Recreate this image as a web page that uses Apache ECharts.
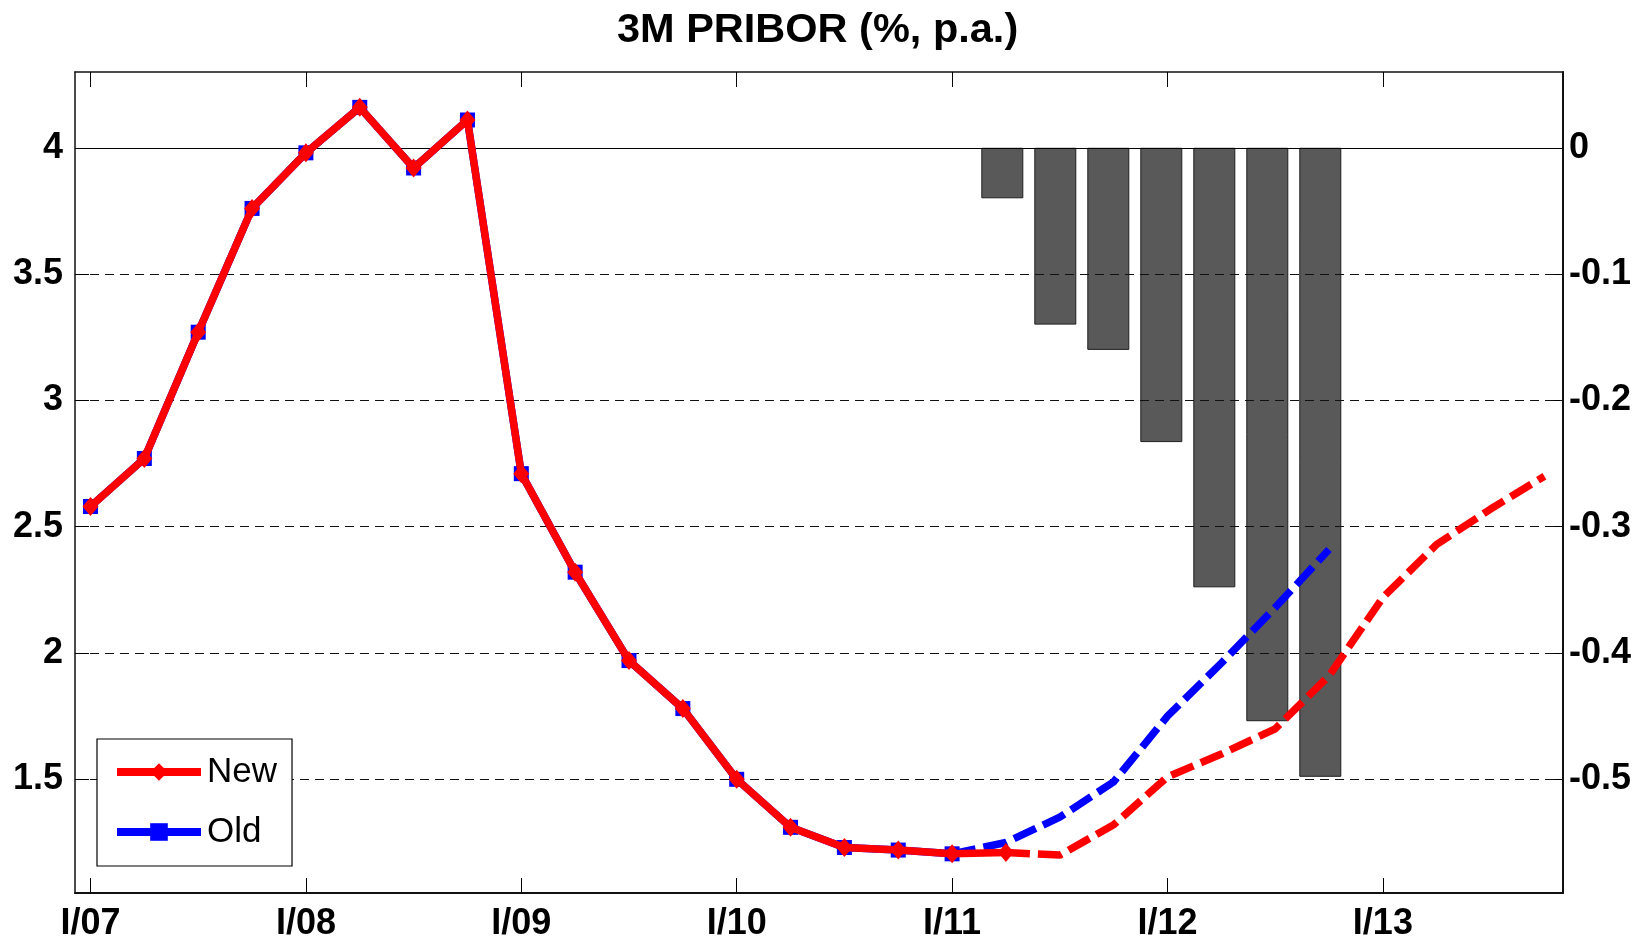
<!DOCTYPE html>
<html>
<head>
<meta charset="utf-8">
<script src="https://cdn.jsdelivr.net/npm/echarts@6/dist/echarts.min.js"></script>
<style>
  html, body { margin: 0; padding: 0; background: #fff; }
  #chart { width: 1649px; height: 942px; }
</style>
</head>
<body>
<div id="chart"></div>
<script>
// Quarterly axis: index 0 = I/07
const quarters = [
  'I/07','II/07','III/07','IV/07',
  'I/08','II/08','III/08','IV/08',
  'I/09','II/09','III/09','IV/09',
  'I/10','II/10','III/10','IV/10',
  'I/11','II/11','III/11','IV/11',
  'I/12','II/12','III/12','IV/12',
  'I/13','II/13','III/13','IV/13'
];
const yearTicks = ['I/07','I/08','I/09','I/10','I/11','I/12','I/13'];

// 3M PRIBOR, % p.a. — new outlook (actual through II/11, then forecast)
const newActualStart = 'I/07';
const newActual = [2.58, 2.77, 3.27, 3.76, 3.98, 4.16, 3.92, 4.11,
                   2.71, 2.32, 1.97, 1.78, 1.50, 1.31, 1.23, 1.22, 1.205, 1.21];
const newForecastStart = 'II/11';
const newForecast = [1.21, 1.20, 1.32, 1.51, 1.60, 1.70, 1.91, 2.22, 2.43, 2.57, 2.70];

// Previous outlook (actual through I/11, then forecast)
const oldActualStart = 'I/07';
const oldActual = [2.58, 2.77, 3.27, 3.76, 3.98, 4.16, 3.92, 4.11,
                   2.71, 2.32, 1.97, 1.78, 1.50, 1.31, 1.23, 1.22, 1.205];
const oldForecastStart = 'I/11';
const oldForecast = [1.205, 1.25, 1.35, 1.49, 1.75, 1.96, 2.18, 2.41];

// Difference new - old (right axis, percentage points)
const barQuarters = ['II/11','III/11','IV/11','I/12','II/12','III/12','IV/12'];
const barValues = [-0.04, -0.14, -0.16, -0.233, -0.348, -0.454, -0.498];

const leftTicks = [1.5, 2, 2.5, 3, 3.5, 4];
const rightTicks = [-0.5, -0.4, -0.3, -0.2, -0.1, 0];

const FONT = "'Liberation Sans', Arial, Helvetica, sans-serif";
const qi = (label) => quarters.indexOf(label);
const pairs = (start, values) => values.map((v, i) => [qi(start) + i, v]);

const X_MIN = -0.288, X_MAX = 27.345;
const yearTickValues = yearTicks.map(qi);

const tickLabel = { fontFamily: FONT, fontSize: 36, fontWeight: 'bold', color: '#000' };

const chart = echarts.init(document.getElementById('chart'), null, { renderer: 'canvas' });

chart.setOption({
  animation: false,
  backgroundColor: '#fff',
  title: {
    text: '3M PRIBOR (%, p.a.)',
    left: 617,
    top: 10,
    padding: 0,
    textStyle: { fontFamily: FONT, fontSize: 41.5, fontWeight: 'bold', color: '#000' }
  },
  legend: {
    data: ['New', 'Old'],
    orient: 'vertical',
    left: 97,
    top: 739,
    itemWidth: 84,
    itemHeight: 22,
    itemGap: 20,
    padding: [13, 15, 14, 16],
    borderColor: '#000',
    borderWidth: 1.2,
    backgroundColor: '#fff',
    selectedMode: false,
    lineStyle: { width: 8 },
    textStyle: { fontFamily: FONT, fontSize: 35, color: '#000', lineHeight: 40, padding: [0, 0, 0, 1] }
  },
  grid: { left: 75, right: 86, top: 72, bottom: 49 },
  xAxis: [
    {
      type: 'value', position: 'bottom', min: X_MIN, max: X_MAX,
      axisLine: { show: true, onZero: false, lineStyle: { color: '#111', width: 2 } },
      axisTick: { show: true, inside: true, length: 15, customValues: yearTickValues,
                  lineStyle: { color: '#000', width: 1 } },
      axisLabel: Object.assign({ show: true, customValues: yearTickValues, margin: 13,
                   formatter: (v) => quarters[Math.round(v)] }, tickLabel),
      splitLine: { show: false }
    },
    {
      type: 'value', position: 'top', min: X_MIN, max: X_MAX,
      axisLine: { show: true, onZero: false, lineStyle: { color: '#111', width: 1.5 } },
      axisTick: { show: true, inside: true, length: 15, customValues: yearTickValues,
                  lineStyle: { color: '#000', width: 1 } },
      axisLabel: { show: false },
      splitLine: { show: false }
    },
    {
      // positions the difference bars
      type: 'value', position: 'bottom', min: -0.496, max: 27.579, show: false
    }
  ],
  yAxis: [
    {
      type: 'value', position: 'left', min: 1.05, max: 4.3, z: 1.5,
      axisLine: { show: true, onZero: false, lineStyle: { color: '#111', width: 1.5 } },
      axisTick: { show: true, inside: true, length: 14, customValues: leftTicks,
                  lineStyle: { color: '#000', width: 1 } },
      axisLabel: Object.assign({ show: true, customValues: leftTicks, margin: 12 }, tickLabel),
      splitLine: { show: true, lineStyle: { color: '#111', width: 1, type: [9, 6] } }
    },
    {
      type: 'value', position: 'right', min: -0.59, max: 0.06,
      axisLine: { show: true, onZero: false, lineStyle: { color: '#111', width: 2 } },
      axisTick: { show: true, inside: true, length: 14, customValues: rightTicks,
                  lineStyle: { color: '#000', width: 1 } },
      axisLabel: Object.assign({ show: true, customValues: rightTicks, margin: 6 }, tickLabel),
      splitLine: { show: false }
    }
  ],
  series: [
    {
      name: 'Difference', type: 'bar', xAxisIndex: 2, yAxisIndex: 1, z: 1,
      data: barQuarters.map((q, i) => [qi(q), barValues[i]]),
      barWidth: 42,
      itemStyle: { color: '#595959', borderColor: '#1e1e1e', borderWidth: 1 },
      markLine: {
        z: 1.8, silent: true, symbol: 'none',
        label: { show: false },
        lineStyle: { color: '#000', width: 1.2, type: 'solid' },
        data: [{ yAxis: 0 }]
      }
    },
    {
      name: 'Old', type: 'line', xAxisIndex: 0, yAxisIndex: 0, z: 3,
      data: pairs(oldActualStart, oldActual),
      symbol: 'rect', symbolSize: 15, showAllSymbol: true,
      itemStyle: { color: '#0000ff' },
      lineStyle: { color: '#0000ff', width: 7.5 }
    },
    {
      name: 'Old outlook', type: 'line', xAxisIndex: 0, yAxisIndex: 0, z: 3,
      data: pairs(oldForecastStart, oldForecast),
      symbol: 'none',
      lineStyle: { color: '#0000ff', width: 7.5, type: [24, 8] }
    },
    {
      name: 'New', type: 'line', xAxisIndex: 0, yAxisIndex: 0, z: 4,
      data: pairs(newActualStart, newActual),
      symbol: 'diamond', symbolSize: [16, 19], showAllSymbol: true,
      itemStyle: { color: '#ff0000' },
      lineStyle: { color: '#ff0000', width: 7.5 }
    },
    {
      name: 'New outlook', type: 'line', xAxisIndex: 0, yAxisIndex: 0, z: 4,
      data: pairs(newForecastStart, newForecast),
      symbol: 'none',
      lineStyle: { color: '#ff0000', width: 7.5, type: [24, 8] }
    }
  ]
});
</script>
</body>
</html>
